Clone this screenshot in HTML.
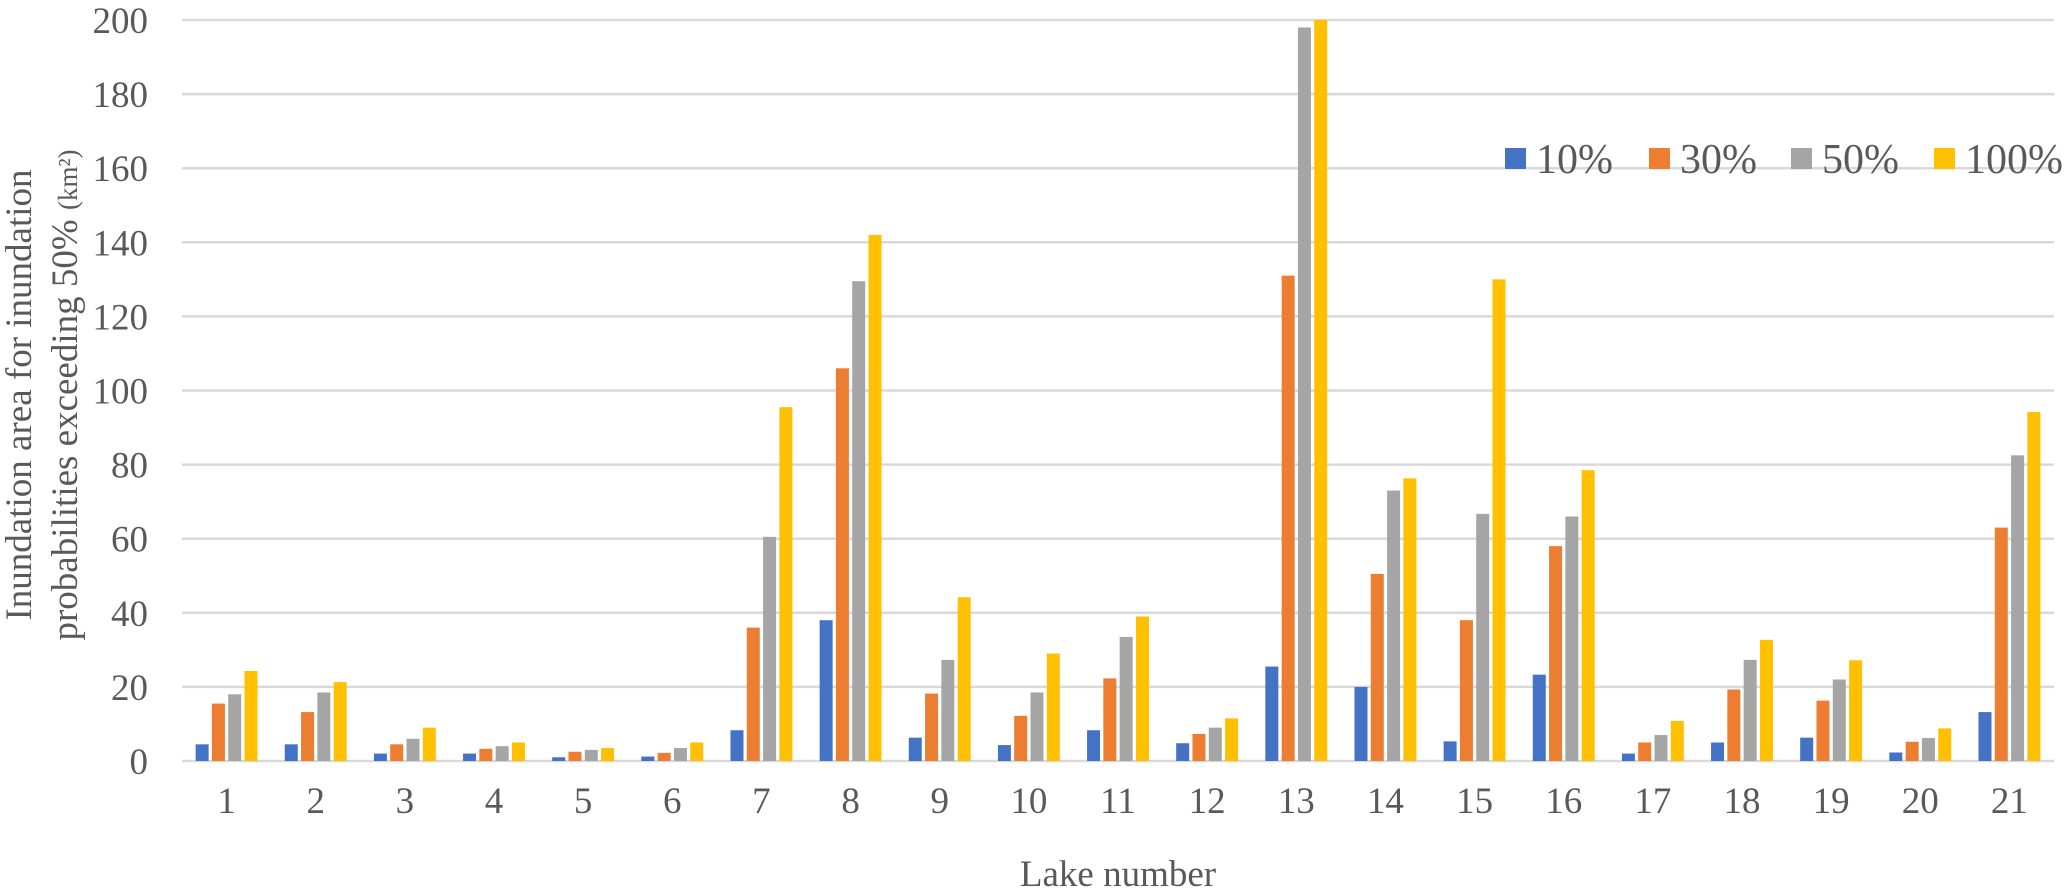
<!DOCTYPE html>
<html><head><meta charset="utf-8"><style>
html,body{margin:0;padding:0;background:#fff;}
svg{display:block;font-family:"Liberation Serif",serif;}
</style></head><body>
<svg id="chart" width="2066" height="894" viewBox="0 0 2066 894" xmlns="http://www.w3.org/2000/svg">
<g id="grid"></g>
<g id="yticks"></g>
<g id="xticks"></g>
<g id="bars"></g>
<text transform="translate(31,395) rotate(-90)" text-anchor="middle" font-size="37" fill="#595959">Inundation area for inundation</text>
<text transform="translate(77,395) rotate(-90)" text-anchor="middle" font-size="37" fill="#595959">probabilities exceeding 50% <tspan font-size="27">(km²)</tspan></text>
<text x="1118" y="886" text-anchor="middle" font-size="37" fill="#595959">Lake number</text>
<g id="legend"></g>
</svg>
<script>
const categories = ["1","2","3","4","5","6","7","8","9","10","11","12","13","14","15","16","17","18","19","20","21"];
const seriesNames = ["10%","30%","50%","100%"];
const s10 = [4.5,4.5,2,2,1,1.2,8.3,38,6.3,4.3,8.3,4.8,25.5,20,5.3,23.3,2,5,6.3,2.3,13.2];
const s30 = [15.5,13.2,4.5,3.3,2.5,2.2,36,106,18.2,12.2,22.3,7.3,131,50.5,38,58,5,19.3,16.3,5.2,63];
const s50 = [18,18.5,6,4,3,3.5,60.5,129.5,27.3,18.5,33.5,9,198,73,66.7,66,7,27.3,22,6.2,82.5];
const s100 = [24.3,21.3,9,5,3.5,5,95.5,142,44.2,29,39,11.5,200,76.3,130,78.5,10.8,32.7,27.2,8.8,94.2];
const yTicks = [0,20,40,60,80,100,120,140,160,180,200];

const NS="http://www.w3.org/2000/svg";
const colors=["#4472C4","#ED7D31","#A5A5A5","#FFC000"];
const series=[s10,s30,s50,s100];
const X0=182,X1=2054,Y0=761,Y1=20,YMAX=200;
const y=v=>Y0-(v/YMAX)*(Y0-Y1);
const band=(X1-X0)/categories.length;
const xc=i=>X0+band*(i+0.5);
function mk(tag,attrs,parent){const e=document.createElementNS(NS,tag);for(const k in attrs)e.setAttribute(k,attrs[k]);parent.appendChild(e);return e;}
const grid=document.getElementById('grid'),yt=document.getElementById('yticks'),xt=document.getElementById('xticks'),bars=document.getElementById('bars'),lg=document.getElementById('legend');
yTicks.forEach(t=>{
  const l=mk('line',{x1:X0,x2:X1,y1:y(t),y2:y(t),stroke:'#d9d9d9','stroke-width':2.5},grid);
  
  
  const tx=mk('text',{x:148,y:y(t)+13,'text-anchor':'end','font-size':37,fill:'#595959'},yt);
  tx.textContent=t;
  
  
});
categories.forEach((c,i)=>{
  const tx=mk('text',{x:xc(i),y:813,'text-anchor':'middle','font-size':37,fill:'#595959'},xt);
  tx.textContent=c;
  
  
  const step=16.3,w=13;
  series.forEach((s,j)=>{
    const x=xc(i)+(j-2)*step+(step-w)/2;
    const r=mk('rect',{x:x,y:y(s[i]),width:w,height:Y0-y(s[i]),fill:colors[j]},bars);
    
    
  });
});
const lx=[1505,1649,1791,1934];
seriesNames.forEach((n,j)=>{
  const r=mk('rect',{x:lx[j],y:148,width:21,height:21,fill:colors[j]},lg);
  
  
  const t=mk('text',{x:lx[j]+31,y:173,'font-size':42,fill:'#595959'},lg);
  t.textContent=n;
  
  
});
</script>
</body></html>
